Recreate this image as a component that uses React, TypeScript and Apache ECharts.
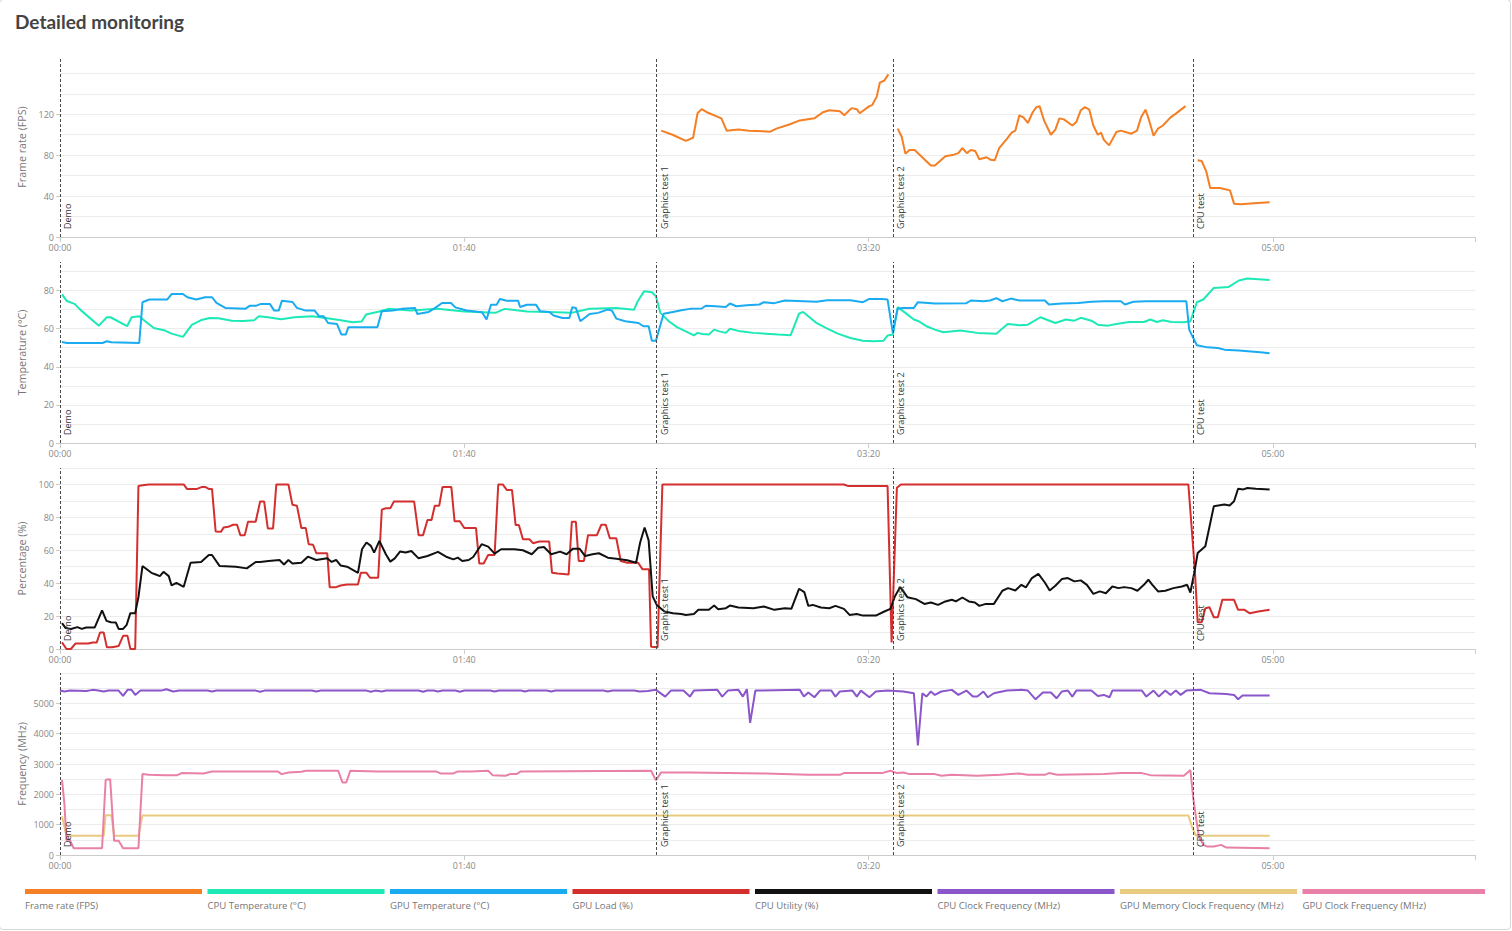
import React, { useEffect, useRef } from "react";
import * as echarts from "echarts";

// ---------- data ----------
const eventNames = ["Demo", "Graphics test 1", "Graphics test 2", "CPU test"];
const eventTimes = [0, 147.6, 206.1, 280.3];

const xTicks = [0, 100, 200, 300];
const xMax = 350;

const fpsTicks = [0, 40, 80, 120];
const tempTicks = [0, 20, 40, 60, 80];
const pctTicks = [0, 20, 40, 60, 80, 100];
const freqTicks = [0, 1000, 2000, 3000, 4000, 5000];

const panelNames = ["Frame rate (FPS)", "Temperature (°C)", "Percentage (%)", "Frequency (MHz)"];
const panelMax = [176, 95, 110, 6000];
const panelStep = [20, 10, 10, 500];
const panelLabelStep = [40, 20, 20, 1000];
const panelTicks = [fpsTicks, tempTicks, pctTicks, freqTicks];

const seriesNames = [
  "Frame rate (FPS)",
  "CPU Temperature (°C)",
  "GPU Temperature (°C)",
  "GPU Load (%)",
  "CPU Utility (%)",
  "CPU Clock Frequency (MHz)",
  "GPU Memory Clock Frequency (MHz)",
  "GPU Clock Frequency (MHz)",
];
const seriesColors = ["#f47f24", "#1de9b6", "#1aabf0", "#d32f2f", "#111111", "#8a56c9", "#e9cb80", "#e880a7"];
const seriesPanel = [0, 1, 1, 2, 2, 3, 3, 3];

const fpsData: (number | null)[][] = [
  [148.7, 104], [151.5, 100], [154.8, 94], [156.6, 97], [157.7, 121], [158.7, 125], [160, 122], [163.6, 116],
  [164.9, 104], [167.8, 105], [170.4, 104], [175.7, 103], [177.2, 106], [180.4, 110], [183, 114], [186.6, 116],
  [188.7, 122], [190.3, 124], [192.9, 123], [194, 119], [195.8, 126], [197.1, 125], [197.8, 121], [200.2, 128],
  [200.9, 129], [202, 137], [202.8, 151], [203.9, 153], [204.9, 159], [206.1, null],
  [207.2, 106], [208.2, 98], [209.1, 81.5], [210.1, 85], [211.4, 85], [215.4, 70], [216.4, 70], [219, 79],
  [221.1, 80.5], [222.2, 82], [223.2, 87], [224.3, 82], [225.3, 85], [226.4, 84], [227.4, 76], [229.2, 78],
  [230.2, 75.5], [231.2, 75], [232.3, 87], [234.2, 96], [235.4, 102], [236.3, 104], [237.3, 119], [238.3, 117],
  [239.4, 111.5], [240.6, 122], [241.5, 127], [242.3, 128], [243.4, 114], [245.1, 100], [246.2, 105], [247.2, 116],
  [248.3, 115], [250.4, 109], [251.4, 112.5], [252.5, 124], [253.5, 127], [254.6, 124.5], [255.6, 109], [256.7, 100],
  [257.5, 102], [258.2, 95], [259.5, 89.6], [261.3, 102.7], [262.4, 104], [265, 101], [266.4, 104], [267.4, 117],
  [268.5, 124.5], [269.4, 114], [270.5, 99], [271.6, 106], [272.8, 109], [274.7, 117], [276, 120.6], [278.4, 128],
  [280.3, null],
  [281.4, 75], [282.4, 74.3], [283.5, 64.5], [284.5, 48], [286.9, 48], [289.4, 45.6], [290.4, 32.6], [292.2, 32],
  [295.3, 33], [299.2, 34],
];

const cpuTempData = [
  [0.5, 78], [1.7, 74.5], [3.6, 73], [5, 70], [9.6, 61.6], [11.6, 66], [12.5, 66], [16.6, 61.3], [17.7, 66],
  [19.6, 66.5], [21, 64], [23.2, 60.4], [26, 59], [27.6, 57.4], [30.4, 55.7], [32.6, 62], [34.8, 64.4], [37, 65.6],
  [39.2, 65.5], [42.5, 64.2], [45.3, 64], [48, 64.4], [49.2, 66.5], [51.4, 66], [54.7, 65], [58, 66], [62.4, 66.5],
  [65.7, 65.6], [69.1, 64.6], [72.4, 63.4], [74.6, 63.8], [75.7, 67.4], [79, 69], [81.2, 70.4], [86.7, 69.5],
  [93.4, 70.5], [100, 69], [107.7, 68.3], [110, 70.4], [115.5, 69], [121, 68.8], [126.5, 68.3], [131, 70.5],
  [137.6, 70.9], [142, 70], [142.9, 74.4], [144.5, 79.7], [146.4, 79.1], [147.4, 77], [148.5, 68.3], [150.6, 63.9],
  [152.7, 60.7], [154.8, 58.6], [156.8, 56.5], [157.7, 57.8], [158.9, 57.2], [160.5, 56.9], [161.8, 59.5],
  [163.1, 58.6], [164.7, 57.8], [165.7, 60], [168.3, 58.6], [171.5, 57.8], [174.6, 57.4], [177.7, 56.9],
  [180.7, 56.5], [182.8, 67.9], [183.8, 68.8], [185.1, 66.5], [187.1, 63], [189.8, 60], [192.4, 57.4], [195.5, 55.1],
  [198.6, 53.7], [201.3, 53.4], [203.7, 53.7], [204.7, 56.4], [206, 56.9], [207.2, 71.3], [209.1, 68.3],
  [211.2, 64.8], [212.4, 63.9], [214.3, 61.3], [216.4, 59.5], [218.5, 58.1], [222.7, 59], [226.9, 57.8],
  [231.6, 57.4], [234.4, 62.5], [237.3, 61.8], [239.4, 62.1], [242.5, 66], [246.2, 63], [248.8, 64.8], [250.9, 64.2],
  [252.5, 65.7], [255.1, 64.2], [256.7, 62.1], [259.2, 61.6], [261.3, 62.5], [264.4, 63.5], [268.1, 63.5],
  [269.7, 64.8], [271.3, 63.5], [272.8, 64.4], [274.9, 63.5], [278, 63.4], [279.6, 63.9], [281.2, 73.9],
  [282.8, 75.3], [285.4, 81.4], [289.1, 81.9], [291.6, 85.3], [293.7, 86.3], [299.2, 85.6],
];

const gpuTempData = [
  [0.5, 53], [1.7, 52.5], [10.5, 52.5], [11.6, 53.4], [12.7, 52.9], [19.6, 52.5], [20.4, 73.9], [22.1, 75.3],
  [26.5, 75.3], [27.6, 78.2], [30.4, 78.2], [31.5, 76.5], [33.7, 75.3], [35.9, 76.5], [37.6, 76.5], [38.7, 73.5],
  [40.9, 70.9], [45.9, 70.5], [47, 72.1], [48.6, 72.1], [49.7, 73], [51.9, 73], [53, 69.5], [54.1, 69.5],
  [54.9, 74.7], [57.5, 74], [58.6, 70.9], [60.8, 69.5], [63, 69.5], [64.1, 66.5], [65.2, 66.5], [66.3, 63],
  [68.5, 62.5], [69.6, 56.9], [70.7, 56.9], [71.3, 60.7], [78.5, 60.7], [79.6, 69.1], [82.3, 69.5], [84.5, 70.4],
  [87.8, 70.9], [88.4, 67.7], [91.2, 68.8], [92.8, 70.9], [94.5, 73.5], [96.7, 73.5], [97.8, 71.2], [100.6, 69.5],
  [104.4, 68.6], [105.5, 64.8], [106.6, 72.6], [108, 72.6], [108.8, 75.6], [110.5, 74.7], [113.3, 74.7],
  [113.8, 71.4], [115.5, 72.6], [117.7, 72.6], [118.8, 69.1], [121, 68.8], [122.1, 66.9], [124.3, 65.6],
  [126, 65.6], [126.7, 71.2], [127.6, 70.9], [128.7, 63.9], [131, 67.7], [133.1, 68.3], [135.4, 70], [136.5, 69.5],
  [137.6, 65.3], [139.8, 63.9], [143.1, 63], [144.3, 61.3], [145.6, 61.3], [146.4, 53.7], [147.4, 53.7],
  [149.3, 67.8], [151.6, 68.8], [153.7, 69.7], [155.8, 70.4], [158.7, 70.6], [159.8, 72.1], [162.1, 71.8],
  [164.7, 71.4], [165.7, 73.2], [167.3, 71.8], [169.9, 72.3], [173, 72.7], [174.1, 73.9], [176.7, 73.4],
  [179.3, 74.8], [187.1, 74.1], [189.8, 74.9], [195.5, 74.9], [198.6, 73.9], [200.2, 75.6], [203.3, 75.6],
  [204.7, 75.3], [206, 57.8], [207.2, 70.6], [208.6, 70.9], [211.2, 70.9], [212.2, 73.9], [216.4, 73.2],
  [224.2, 73.4], [225.3, 74.8], [228.4, 74.4], [230, 74.8], [231.6, 76], [233.1, 74.4], [235.2, 75.8],
  [237.3, 74.8], [243.6, 74.8], [244.6, 72.7], [247.8, 73.2], [251.9, 73.5], [255.1, 74.1], [258.2, 74.4],
  [262.4, 74.4], [263.4, 72.7], [265.5, 74.1], [268.7, 74.4], [278.6, 74.4], [279.3, 59.5], [281.2, 51.3],
  [283.8, 50.2], [286.4, 49.9], [288, 49], [291.6, 48.5], [296.9, 47.6], [299.2, 47.1],
];

const gpuLoadData = [
  [0.5, 4], [1.6, 0], [2.7, 0], [3.8, 3.3], [7, 3.3], [8.1, 4], [9.1, 4], [9.9, 10], [10.8, 10], [11.6, 1],
  [12.9, 1], [14.5, 1.8], [15.6, 8], [16.7, 8], [17.4, 0], [18.6, 0], [19.4, 99], [20.4, 99.5], [22, 100],
  [30.6, 100], [31.4, 97.3], [33.9, 97.3], [35, 98.4], [36, 98.4], [36.8, 97.3], [37.6, 97.3], [38.5, 71.4],
  [39.8, 71.2], [40.5, 73.9], [41.9, 74.5], [42.8, 75.5], [43.8, 75.5], [44.6, 69.2], [45.7, 69.2], [46.5, 77.3],
  [48.4, 77.3], [49.5, 89.6], [50.5, 89.6], [51.4, 73.3], [52.7, 73.3], [53.5, 100], [56.5, 100], [57.5, 87.6],
  [58.6, 87.1], [59.7, 73.5], [60.8, 73.5], [61.5, 63.7], [62.6, 63.3], [63.4, 58.2], [66.1, 58.2], [66.7, 37.6],
  [68.3, 37.6], [69.4, 38.6], [71, 39.2], [73.7, 39.2], [74.4, 46.3], [75.8, 46.3], [76.7, 43.3], [78.7, 43.3],
  [79.6, 84.7], [80.6, 85.5], [81.7, 85.5], [82.6, 89.6], [87.6, 89.6], [88.7, 69.2], [89.8, 69.2], [90.9, 78.4],
  [91.9, 78.4], [92.7, 87.1], [93.8, 87.1], [94.6, 98.4], [96.8, 98.4], [97.6, 77.6], [98.9, 77.6], [100, 73.5],
  [102.9, 73.5], [103.7, 52], [104.8, 52], [105.9, 57.1], [107.5, 57.1], [108.4, 100], [109.5, 100], [110.5, 96.7],
  [111.8, 96.7], [112.7, 75.3], [113.5, 75.3], [114.5, 66.7], [116.1, 66.7], [117, 64.3], [118.6, 65.3],
  [121, 65.3], [121.7, 46.3], [123.1, 45.9], [125.8, 45.3], [126.6, 77.3], [127.6, 77.3], [128.3, 53.5],
  [129.6, 53.5], [130.6, 69.2], [132.8, 69.2], [133.9, 75.5], [135, 75.5], [136, 67.3], [137.6, 67.3],
  [138.7, 53.5], [140.3, 52.4], [143, 52.4], [144.1, 48.4], [145.7, 48.4], [146.2, 1.4], [147.8, 1], [149, 100],
  [193.9, 100], [195, 99], [204.7, 99], [205.7, 4], [207, 98], [208, 100], [279.1, 100], [280.7, 48.2],
  [281.4, 16.3], [282.4, 16.3], [283.3, 24.8], [284.3, 25.4], [285.4, 19.3], [286.4, 19.3], [287.5, 29.9],
  [290.4, 29.9], [291.4, 23.8], [293, 23.8], [294.3, 21.7], [296.4, 22.8], [299.2, 23.8],
];

const cpuUtilData = [
  [0.5, 15.7], [1.4, 12.7], [2.7, 12.2], [4.3, 13.3], [5.4, 12.2], [6.5, 13.1], [8.6, 13.1], [10.4, 23.5],
  [11.5, 17.1], [12.6, 16.3], [13.8, 16.1], [14.5, 12.2], [15.6, 12.2], [16.5, 14.7], [17.4, 21.8], [18.6, 21.8],
  [19.4, 31.6], [20.4, 50.4], [22.6, 46.3], [23.7, 45.3], [24.7, 44.3], [25.6, 46.9], [26.9, 44.3], [27.6, 38.6],
  [28.8, 40.2], [30.6, 37.8], [32.3, 52.4], [34.9, 52.9], [36.8, 57.1], [37.6, 57.1], [39.5, 50.4], [43.5, 50],
  [46.2, 49], [48.4, 52.9], [49.5, 52.9], [51.6, 53.5], [54.3, 54.1], [55.4, 51.4], [56.5, 54.1], [57.5, 52],
  [59.7, 52.4], [61.3, 56.1], [63.4, 54.1], [66.1, 55.1], [67.2, 52.9], [68.3, 54.1], [69.4, 50.8], [71, 50],
  [73.7, 46.3], [74.7, 60.6], [75.8, 64.7], [76.9, 62.7], [77.7, 58.6], [79, 65.7], [80.6, 57.6], [81.7, 53.1],
  [82.8, 55.1], [84.1, 59.2], [85.5, 58.6], [86.9, 59.6], [88.7, 55.1], [90.9, 56.5], [93.5, 59], [95.7, 55.9],
  [97.3, 54.5], [98.4, 55.5], [99.5, 53.5], [101.1, 54.1], [102.2, 55.9], [104.3, 63.7], [105.9, 62.2],
  [107.5, 58], [109.1, 60.6], [112.4, 60.6], [114.5, 60], [116.7, 57.6], [118.3, 61.6], [119.7, 62], [121.5, 57.6],
  [123.7, 59.2], [125.3, 57.6], [126.9, 61], [128.5, 61], [129.9, 56.5], [131.7, 57.6], [133.3, 58.2],
  [135.5, 55.5], [137.6, 54.9], [140.3, 53.9], [142.5, 52.4], [143.5, 64.7], [144.6, 73.8], [145.6, 66],
  [146.6, 32], [147.6, 26.8], [149.5, 22.8], [151.6, 21.7], [153.7, 21.3], [154.8, 20.7], [156.8, 21.3],
  [157.9, 23.8], [160.5, 23.8], [161.8, 26.4], [162.8, 24.2], [164.7, 24.8], [165.7, 26.4], [167.8, 25.2],
  [171.5, 24.8], [174.1, 25.8], [176.7, 23.8], [179.3, 24.8], [180.9, 24.4], [182.8, 36.6], [184.1, 34.6],
  [185.1, 26.2], [186.2, 26.8], [188.2, 25.2], [190.3, 24.8], [191.8, 26.2], [193.9, 24.4], [195.3, 20.7],
  [197.1, 21.3], [198.6, 20.3], [201.8, 20.3], [203.9, 22.8], [205.4, 24.4], [206.5, 31.9], [207.8, 37.6],
  [208.6, 35], [209.6, 31.5], [211.7, 30.3], [213.8, 27.4], [215.4, 28.3], [217.2, 26.8], [219, 28.9],
  [220.6, 29.9], [221.6, 28.9], [223.2, 31.3], [224.8, 28.9], [226.3, 28.3], [227.4, 26.2], [229, 27.4],
  [231, 27.4], [233.1, 35.4], [234.5, 37], [236.3, 35.6], [237.8, 39], [238.9, 37.4], [240.4, 43.1], [242, 45.7],
  [243.6, 40.4], [244.8, 35.6], [246.2, 38.4], [247.8, 42.5], [249.3, 43.1], [250.9, 41.1], [252.5, 41.7],
  [254, 39], [255.6, 33.5], [257.2, 35], [258.7, 33.9], [260.3, 38], [261.8, 37], [263.2, 37.6], [265, 37],
  [266.5, 35.4], [268.1, 39], [269.2, 42.1], [270.2, 39], [271.6, 35], [273.4, 35.4], [275.4, 37], [277.5, 38],
  [278.8, 39], [279.6, 34.3], [280.7, 48.2], [281.4, 58.3], [283.3, 62.4], [285.4, 86.8], [288, 87.8],
  [289.3, 87.2], [290.4, 89.8], [291.4, 97.4], [292.7, 97], [293.7, 97.8], [295.8, 97.4], [299.2, 97],
];

const cpuClockData = [
  [0, 5420], [1.1, 5390], [2.5, 5420], [6.5, 5410], [8.1, 5444], [9.5, 5420], [10.8, 5390], [12, 5420],
  [14.5, 5420], [15.6, 5244], [16.7, 5444], [17.7, 5444], [18.6, 5278], [19.9, 5420], [25, 5420], [26.3, 5466],
  [28, 5390], [29.5, 5420], [36.5, 5420], [37.6, 5390], [38.7, 5420], [48.4, 5420], [49.5, 5380], [50.6, 5420],
  [62.3, 5420], [63.4, 5390], [64.5, 5420], [75.8, 5420], [76.9, 5380], [78, 5420], [79.6, 5390], [80.7, 5420],
  [88.7, 5420], [89.8, 5385], [90.9, 5420], [92.4, 5420], [93.5, 5390], [94.6, 5420], [97.8, 5420], [98.9, 5385],
  [100, 5420], [106.4, 5420], [107.5, 5390], [108.6, 5420], [114, 5420], [115, 5390], [116, 5420], [120.4, 5420],
  [121.5, 5390], [122.6, 5420], [134.4, 5420], [135.5, 5390], [136.6, 5420], [142, 5420], [143.3, 5390],
  [145.4, 5410], [147.4, 5444], [149.7, 5222], [151.1, 5420], [154.2, 5420], [155.8, 5222], [156.8, 5420],
  [162.6, 5444], [163.8, 5222], [165.2, 5420], [167.8, 5444], [168.9, 5222], [169.9, 5466], [170.7, 4355],
  [172, 5420], [183, 5444], [184, 5222], [185.1, 5355], [186.6, 5200], [188, 5420], [190.8, 5420], [191.8, 5222],
  [192.9, 5390], [196, 5420], [197.1, 5222], [198.1, 5420], [200.2, 5200], [201.8, 5390], [204.7, 5420],
  [208.6, 5390], [211.2, 5333], [212.2, 3611], [213.3, 5333], [214.3, 5222], [215.4, 5390], [216.4, 5278],
  [218, 5390], [220.6, 5444], [222.2, 5278], [224.2, 5420], [225.8, 5222], [226.9, 5222], [228.4, 5390],
  [229.5, 5200], [231, 5333], [234.2, 5420], [237.8, 5444], [239.4, 5420], [241.3, 5133], [243.1, 5355],
  [245.1, 5355], [246.5, 5166], [247.8, 5390], [249.3, 5420], [250.4, 5222], [251.4, 5420], [255.1, 5420],
  [256.7, 5244], [258.2, 5278], [259.6, 5200], [260.3, 5420], [267.6, 5420], [268.7, 5222], [270.5, 5420],
  [271.8, 5222], [273.4, 5420], [274.7, 5278], [276, 5420], [277.2, 5278], [278.6, 5420], [282.2, 5444],
  [284.3, 5333], [288.5, 5311], [290.4, 5278], [291.4, 5133], [292.5, 5255], [299.2, 5255],
];

const gpuMemClockData = [
  [0.5, 1278], [1.6, 633], [10.8, 633], [11.3, 1311], [12.7, 1311], [13.4, 633], [19.4, 633], [20.4, 1300],
  [279.1, 1300], [280.1, 889], [281, 633], [299.2, 633],
];

const gpuClockData = [
  [0.5, 2478], [1.1, 1667], [1.6, 500], [2.4, 500], [3.4, 222], [10.4, 222], [11.3, 2478], [12.4, 2500],
  [13.4, 467], [14.5, 467], [15.6, 222], [19.4, 222], [20.4, 2667], [22, 2644], [25.8, 2633], [29, 2633],
  [30.1, 2700], [35.5, 2689], [37.6, 2755], [53.8, 2755], [54.8, 2667], [56.5, 2722], [59.7, 2744], [60.8, 2778],
  [68.8, 2778], [69.9, 2389], [70.8, 2389], [71.8, 2778], [78.5, 2755], [93, 2755], [94.1, 2689], [97.3, 2689],
  [98.4, 2755], [101.6, 2755], [105.9, 2778], [107, 2633], [110.2, 2611], [111.3, 2667], [112.9, 2667],
  [114, 2755], [146.2, 2778], [147.4, 2467], [148.7, 2722], [155.8, 2722], [174.6, 2689], [185.1, 2644],
  [192.9, 2644], [193.9, 2700], [203.3, 2700], [205.4, 2778], [207, 2700], [208.6, 2722], [210.1, 2667],
  [216.4, 2667], [218, 2611], [220.6, 2644], [226.9, 2611], [232.6, 2644], [237.3, 2689], [239.4, 2644],
  [243.6, 2644], [244.6, 2700], [246.7, 2644], [258.2, 2667], [262.4, 2700], [267.6, 2700], [269.7, 2633],
  [278, 2611], [279.6, 2800], [280.3, 1889], [281, 1222], [281.7, 611], [282.8, 333], [283.8, 278], [285.4, 278],
  [287.2, 333], [288.5, 244], [299.2, 222],
];

const seriesData = [fpsData, cpuTempData, gpuTempData, gpuLoadData, cpuUtilData, cpuClockData, gpuMemClockData, gpuClockData];

// ---------- layout ----------
const gridTops = [57, 262, 468, 673];
const gridHeights = [180, 181, 181, 182];
const gridLeft = 60;
const gridRight = 37;
const FONT = '"Open Sans", "Noto Sans", sans-serif';

function fmtTime(v: number) {
  const m = Math.floor(v / 60);
  const s = Math.round(v % 60);
  return String(m).padStart(2, "0") + ":" + String(s).padStart(2, "0");
}

function buildOption() {
  const grids = gridTops.map((top, i) => ({ left: gridLeft, right: gridRight, top, height: gridHeights[i] }));
  const xAxes = gridTops.map((_, i) => ({
    type: "value",
    gridIndex: i,
    min: 0,
    max: xMax,
    interval: 100,
    axisLine: { show: true, lineStyle: { color: "#cccccc", width: 1 } },
    axisTick: { show: true, length: 5, lineStyle: { color: "#cccccc" } },
    axisLabel: {
      color: "#888888",
      fontSize: 9,
      fontFamily: FONT,
      margin: 6,
      formatter: (v: number) => (xTicks.includes(v) ? fmtTime(v) : ""),
    },
    splitLine: { show: false },
  }));
  // primary y axes: gridlines only
  const yGridAxes = gridTops.map((_, i) => ({
    type: "value",
    gridIndex: i,
    position: "left",
    min: 0,
    max: panelMax[i],
    interval: panelStep[i],
    axisLine: { show: false },
    axisTick: { show: false },
    axisLabel: { show: false },
    splitLine: {
      show: true,
      showMaxLine: panelMax[i] % panelStep[i] === 0,
      lineStyle: { color: "#ececec", width: 1 },
    },
  }));
  // overlay y axes: labels, ticks and name
  const yLabelAxes = gridTops.map((_, i) => ({
    type: "value",
    gridIndex: i,
    position: "left",
    offset: 0,
    min: 0,
    max: panelMax[i],
    interval: panelLabelStep[i],
    name: panelNames[i],
    nameLocation: "middle",
    nameGap: 33,
    nameMoveOverlap: false,
    nameTextStyle: { color: "#777777", fontSize: 10.7, fontFamily: FONT },
    axisLine: { show: false },
    axisTick: { show: true, length: 4, customValues: panelTicks[i], lineStyle: { color: "#cccccc" } },
    axisLabel: {
      color: "#888888",
      fontSize: 9,
      fontFamily: FONT,
      margin: 6,
      formatter: (v: number) => (panelTicks[i].includes(v) ? String(v) : ""),
    },
    splitLine: { show: false },
  }));

  const firstInPanel = [0, 1, 3, 5];
  const series = seriesNames.map((name, i) => {
    const s: any = {
      name,
      type: "line",
      xAxisIndex: seriesPanel[i],
      yAxisIndex: seriesPanel[i],
      data: seriesData[i],
      showSymbol: false,
      symbol: "none",
      connectNulls: false,
      lineStyle: { color: seriesColors[i], width: 2 },
      itemStyle: { color: seriesColors[i] },
      silent: true,
    };
    if (firstInPanel.includes(i)) {
      s.markLine = {
        silent: true,
        symbol: ["none", "none"],
        lineStyle: { color: "#4a4a4a", type: [3, 2], width: 1 },
        label: {
          show: true,
          position: "insideStartBottom",
          formatter: "{b}",
          color: "#333333",
          fontSize: 9,
          fontFamily: FONT,
          distance: [8, 3],
        },
        emphasis: { disabled: true },
        data: eventTimes.map((t, k) => ({ xAxis: t, name: eventNames[k] })),
      };
    }
    return s;
  });

  const legendPitch = 182.5;
  const legendGraphics: any[] = [];
  seriesNames.forEach((name, i) => {
    const x = 25 + i * legendPitch;
    const w = i === seriesNames.length - 1 ? 1485 - x : 177;
    legendGraphics.push({
      type: "rect",
      x,
      y: 889,
      shape: { x: 0, y: 0, width: w, height: 5 },
      style: { fill: seriesColors[i] },
      silent: true,
    });
    legendGraphics.push({
      type: "text",
      x,
      y: 905,
      style: { text: name, fill: "#777777", fontSize: 9.6, fontFamily: FONT, align: "left", verticalAlign: "middle" },
      silent: true,
    });
  });

  return {
    animation: false,
    backgroundColor: "transparent",
    title: {
      text: "Detailed monitoring",
      left: 15,
      top: 12,
      padding: 0,
      textStyle: { fontSize: 19, fontWeight: "bold", color: "#444444", fontFamily: "Lato, sans-serif" },
    },
    grid: grids,
    xAxis: xAxes,
    yAxis: [...yGridAxes, ...yLabelAxes],
    series,
    graphic: legendGraphics,
  };
}

export default function App() {
  const ref = useRef<HTMLDivElement>(null);
  useEffect(() => {
    if (!ref.current) return;
    const chart = echarts.init(ref.current, null, { renderer: "svg" });
    chart.setOption(buildOption() as any);
    return () => chart.dispose();
  }, []);
  return (
    <div style={{ position: "fixed", left: 0, top: 0, width: 1512, height: 931, background: "#ffffff", overflow: "hidden" }}>
      <div
        style={{
          position: "absolute",
          left: -1,
          top: -1,
          width: 1510,
          height: 929,
          border: "1px solid #d6d6d6",
          borderRadius: 4,
        }}
      />
      <div ref={ref} style={{ position: "absolute", left: 0, top: 0, width: 1512, height: 931 }} />
    </div>
  );
}
